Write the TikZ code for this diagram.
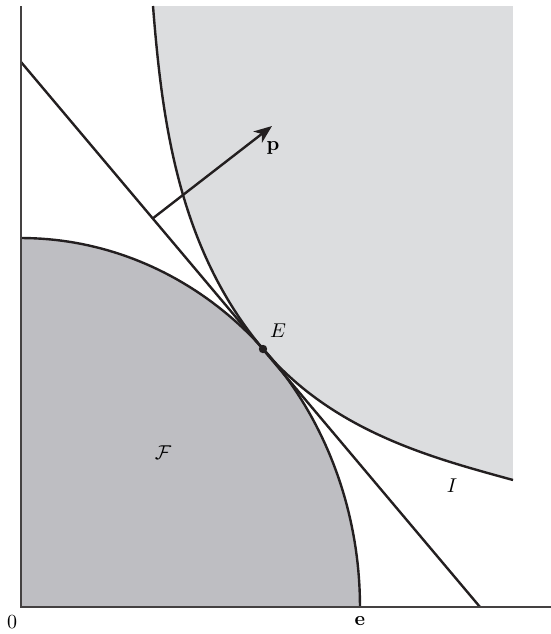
\documentclass[tikz,border=0pt]{standalone}
\usetikzlibrary{arrows.meta,calc}
\definecolor{feas}{RGB}{190,190,194}
\definecolor{pref}{RGB}{220,221,223}
\definecolor{ink}{RGB}{35,31,32}
\begin{document}
\begin{tikzpicture}[x=0.5pt,y=-0.5pt,
  curve/.style={draw=ink,line width=1.2pt},
  axis/.style={draw=ink!85,line width=0.7pt},
  lbl/.style={inner sep=0pt,font=\normalsize}]
\useasboundingbox (0,0) rectangle (551,634);
\coordinate (O) at (21,607);
\coordinate (Ytop) at (21,6);
\coordinate (Xend) at (551,607);
\coordinate (Itop) at (153,6);
\coordinate (E) at (263,349);
\coordinate (Iend) at (513,480);
\coordinate (Rtop) at (513,6);
\coordinate (L1) at (21,62);
\coordinate (L2) at (480,607);
\coordinate (Ptip) at (272,126);
\coordinate (Pfoot) at ($(L1)!0.287!(L2)$);
% preferred set (upper contour of I)
\fill[pref] (Itop) .. controls (162,120) and (178,248) .. (E)
  .. controls (333,432) and (433,458) .. (Iend) -- (Rtop) -- cycle;
% feasible set
\fill[feas] (O) -- plot[domain=90:0,samples=80,variable=\t] ({21+339*cos(\t)},{607-369*sin(\t)}) -- cycle;
\draw[curve] plot[domain=90:0,samples=80,variable=\t] ({21+339*cos(\t)},{607-369*sin(\t)});
% indifference curve
\draw[curve] (Itop) .. controls (162,120) and (178,248) .. (E)
  .. controls (333,432) and (433,458) .. (Iend);
% budget / tangent line
\draw[curve] (L1) -- (L2);
% axes
\draw[axis] (Ytop) -- (O) -- (Xend);
% price vector
\draw[curve,-{Stealth[length=9pt,width=7pt,inset=2.5pt]}] (Pfoot) -- (Ptip);
\fill[ink] (E) circle[radius=2.1pt];
% labels
\node[lbl] (lE) at (278,331) {$E$};
\node[lbl] (lp) at (273,148) {$\mathbf{p}$};
\node[lbl] (lI) at (452,486) {$I$};
\node[lbl] (lF) at (163,453) {$\mathcal{F}$};
\node[lbl] (l0) at (12,622) {0};
\node[lbl] (le) at (360,621) {$\mathbf{e}$};
\end{tikzpicture}
\end{document}
